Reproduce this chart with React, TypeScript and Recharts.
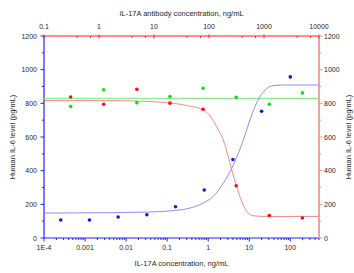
import React from 'react';
import { ScatterChart, Scatter, XAxis, YAxis } from 'recharts';

// ---- data ----
// IL-17A concentration (ng/mL) – bottom axis, blue series
const bluePointX = [0.000256, 0.00128, 0.0064, 0.032, 0.16, 0.8, 4, 20, 100];
const bluePointY = [107, 107, 125, 138, 186, 285, 466, 753, 957];

// IL-17A antibody concentration (ng/mL) – top axis, red and green series
const antibodyX = [0.305, 1.22, 4.88, 19.5, 78.1, 312.5, 1250, 5000];
const redPointY = [838, 795, 884, 801, 765, 310, 134, 119];
const greenPointY = [781, 880, 804, 840, 890, 836, 795, 862];

// fitted curves
const blueCurveX = [0.0001, 0.0023, 0.032, 0.16, 0.36, 0.76, 1.33, 2.34, 3.75, 5.42, 7.18, 10.4, 13.8, 18.3, 24.3, 35.3, 56.2, 500];
const blueCurveY = [148, 150, 154, 164, 178, 208, 247, 326, 415, 504, 583, 702, 781, 840, 880, 903, 909, 909];
const redCurveX = [0.1, 1.6, 12.9, 39.4, 78.7, 112, 148, 182, 224, 259, 319, 394, 485, 639, 1119, 10000];
const redCurveY = [816, 816, 807, 787, 761, 712, 642, 583, 484, 405, 306, 217, 158, 132, 128, 128];
const greenLineX = [0.1, 10000];
const greenLineY = [830, 830];

// ticks
const bottomMajor = [1e-4, 1e-3, 1e-2, 0.1, 1, 10, 100];
const bottomLabels = ['1E-4', '0.001', '0.01', '0.1', '1', '10', '100'];
const bottomMinorMult = [2, 3, 4, 5, 6, 7, 8, 9];
const topMajor = [0.1, 1, 10, 100, 1000, 10000];
const topLabels = ['0.1', '1', '10', '100', '1000', '10000'];
const topMinorMult = [4, 7];
const yMajor = [0, 200, 400, 600, 800, 1000, 1200];
const yMinor = [100, 300, 500, 700, 900, 1100];

const bottomTitle = 'IL-17A  concentration, ng/mL';
const topTitle = 'IL-17A antibody concentration, ng/mL';
const yTitle = 'Human IL-6 level (pg/mL)';

const bottomDomain = [1e-4, 500];
const topDomain = [0.1, 10000];
const yDomain = [0, 1200];

// ---- styling ----
const W = 354;
const H = 273;
const M = { left: 44, right: 35, top: 36, bottom: 35 };
const FONT = '"Liberation Sans", Arial, Helvetica, sans-serif';
const AXIS_BLUE = '#2020ff';
const AXIS_RED = '#ff1a1a';
const AXIS_PINK = '#f48a8a';
const TXT = '#262626';

const zip = (xs: number[], ys: number[]) => xs.map((x, i) => ({ x, y: ys[i] }));

const bottomTicks = [
  ...bottomMajor,
  ...bottomMajor.flatMap((m) => bottomMinorMult.map((k) => k * m)).filter((v) => v <= bottomDomain[1] * 1.0001),
].sort((a, b) => a - b);
const topTicks = [
  ...topMajor,
  ...topMajor.slice(0, -1).flatMap((m) => topMinorMult.map((k) => k * m)),
].sort((a, b) => a - b);
const yTicks = [...yMajor, ...yMinor].sort((a, b) => a - b);

const findMajor = (arr: number[], v: number) =>
  arr.findIndex((m) => Math.abs(Math.log10(m) - Math.log10(v)) < 1e-6);

const tickText = { fontSize: 7, fontFamily: FONT, fill: TXT, style: { fill: TXT } };

const BottomTick = (props: any) => {
  const { x, y, payload } = props;
  const i = findMajor(bottomMajor, payload.value);
  const major = i >= 0;
  return (
    <g>
      <line x1={x} y1={y} x2={x} y2={y + (major ? 3.5 : 2)} stroke={AXIS_BLUE} strokeWidth={1} />
      {major && (
        <text x={x} y={y + 9} textAnchor="middle" dominantBaseline="central" {...tickText}>
          {bottomLabels[i]}
        </text>
      )}
    </g>
  );
};

const TopTick = (props: any) => {
  const { x, y, payload } = props;
  const i = findMajor(topMajor, payload.value);
  const major = i >= 0;
  return (
    <g>
      <line x1={x} y1={y - (major ? 1.5 : 0)} x2={x} y2={y + (major ? 2.5 : 2)} stroke={AXIS_RED} strokeWidth={1} />
      {major && (
        <text x={x} y={y - 10} textAnchor="middle" dominantBaseline="central" {...tickText}>
          {topLabels[i]}
        </text>
      )}
    </g>
  );
};

const LeftTick = (props: any) => {
  const { x, y, payload } = props;
  const major = yMajor.includes(payload.value);
  return (
    <g>
      <line x1={x - (major ? 3.5 : 2)} y1={y} x2={x} y2={y} stroke={AXIS_BLUE} strokeWidth={1} />
      {major && (
        <text x={x - 7} y={y} textAnchor="end" dominantBaseline="central" {...tickText}>
          {payload.value}
        </text>
      )}
    </g>
  );
};

const RightTick = (props: any) => {
  const { x, y, payload } = props;
  const major = yMajor.includes(payload.value);
  return (
    <g>
      <line x1={x} y1={y} x2={x + (major ? 3.5 : 2)} y2={y} stroke={AXIS_PINK} strokeWidth={1} />
      {major && (
        <text x={x + 5} y={y} textAnchor="start" dominantBaseline="central" {...tickText}>
          {payload.value}
        </text>
      )}
    </g>
  );
};

const titleStyle = { fontSize: 7.5, fontFamily: FONT, fill: TXT };

const dot = (color: string) => (props: any) => {
  const { cx, cy } = props;
  if (cx == null || cy == null) return <g />;
  return <circle cx={cx} cy={cy} r={1.8} fill={color} />;
};
const noShape = () => <g />;

export default function App() {
  const plotCx = M.left + (W - M.left - M.right) / 2;
  const plotCy = M.top + (H - M.top - M.bottom) / 2;
  const lx = 12.5;
  const rx = W - M.right + 29;
  return (
    <div style={{ position: 'absolute', left: 0, top: 0, width: W, height: H, background: '#fff' }}>
      <ScatterChart width={W} height={H} margin={{ top: 0, right: 0, bottom: 0, left: 0 }}>
        <XAxis
          xAxisId="bottom"
          dataKey="x"
          type="number"
          scale="log"
          domain={bottomDomain}
          allowDataOverflow
          ticks={bottomTicks}
          interval={0}
          height={M.bottom}
          tickSize={0}
          tickMargin={0}
          tickLine={false}
          tick={<BottomTick />}
          axisLine={{ stroke: AXIS_BLUE, strokeWidth: 1.2 }}
        />
        <XAxis
          xAxisId="top"
          orientation="top"
          dataKey="x"
          type="number"
          scale="log"
          domain={topDomain}
          allowDataOverflow
          ticks={topTicks}
          interval={0}
          height={M.top}
          tickSize={0}
          tickMargin={0}
          tickLine={false}
          tick={<TopTick />}
          axisLine={{ stroke: AXIS_RED, strokeWidth: 1.2 }}
        />
        <YAxis
          yAxisId="left"
          dataKey="y"
          type="number"
          domain={yDomain}
          ticks={yTicks}
          interval={0}
          width={M.left}
          tickSize={0}
          tickMargin={0}
          tickLine={false}
          tick={<LeftTick />}
          axisLine={{ stroke: AXIS_BLUE, strokeWidth: 1.2 }}
        />
        <YAxis
          yAxisId="right"
          orientation="right"
          dataKey="y"
          type="number"
          domain={yDomain}
          ticks={yTicks}
          interval={0}
          width={M.right}
          tickSize={0}
          tickMargin={0}
          tickLine={false}
          tick={<RightTick />}
          axisLine={{ stroke: AXIS_PINK, strokeWidth: 1.6 }}
        />

        <Scatter
          xAxisId="top"
          yAxisId="right"
          data={zip(greenLineX, greenLineY)}
          line={{ stroke: '#8cf08c', strokeWidth: 1.2 }}
          lineJointType="linear"
          shape={noShape}
          fill="#8cf08c"
          isAnimationActive={false}
        />
        <Scatter
          xAxisId="top"
          yAxisId="right"
          data={zip(redCurveX, redCurveY)}
          line={{ stroke: '#f28a8a', strokeWidth: 1 }}
          lineJointType="monotoneX"
          shape={noShape}
          fill="#f28a8a"
          isAnimationActive={false}
        />
        <Scatter
          xAxisId="bottom"
          yAxisId="left"
          data={zip(blueCurveX, blueCurveY)}
          line={{ stroke: '#8e8ef0', strokeWidth: 1 }}
          lineJointType="monotoneX"
          shape={noShape}
          fill="#8e8ef0"
          isAnimationActive={false}
        />
        <Scatter
          xAxisId="top"
          yAxisId="right"
          data={zip(antibodyX, greenPointY)}
          shape={dot('#10e010')}
          fill="#10e010"
          isAnimationActive={false}
        />
        <Scatter
          xAxisId="top"
          yAxisId="right"
          data={zip(antibodyX, redPointY)}
          shape={dot('#f01010')}
          fill="#f01010"
          isAnimationActive={false}
        />
        <Scatter
          xAxisId="bottom"
          yAxisId="left"
          data={zip(bluePointX, bluePointY)}
          shape={dot('#1515e6')}
          fill="#1515e6"
          isAnimationActive={false}
        />
      </ScatterChart>
      <svg width={W} height={H} style={{ position: 'absolute', left: 0, top: 0, pointerEvents: 'none' }}>
        <text x={plotCx} y={13} textAnchor="middle" dominantBaseline="central" {...titleStyle}>
          {topTitle}
        </text>
        <text x={plotCx} y={H - M.bottom + 25} textAnchor="middle" dominantBaseline="central" {...titleStyle}>
          {bottomTitle}
        </text>
        <text x={lx} y={plotCy} transform={`rotate(-90 ${lx} ${plotCy})`} textAnchor="middle" dominantBaseline="central" {...titleStyle}>
          {yTitle}
        </text>
        <text x={rx} y={plotCy} transform={`rotate(-90 ${rx} ${plotCy})`} textAnchor="middle" dominantBaseline="central" {...titleStyle}>
          {yTitle}
        </text>
      </svg>
    </div>
  );
}
